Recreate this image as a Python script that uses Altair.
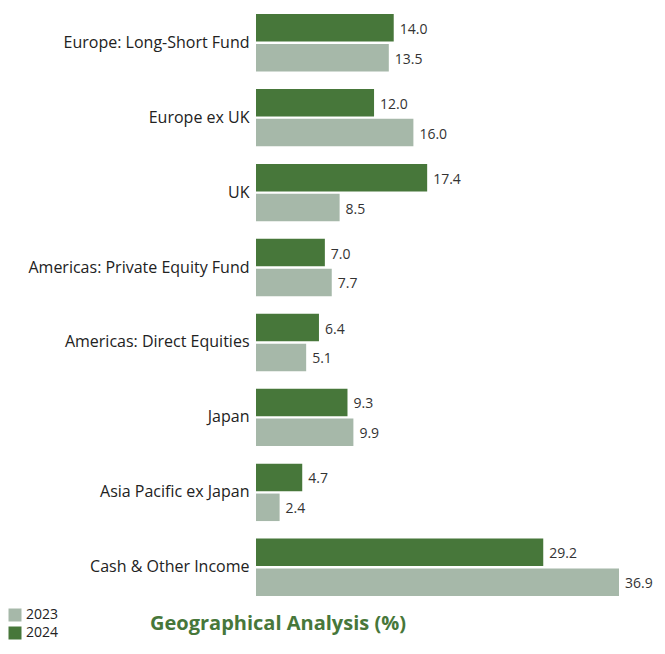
import altair as alt
import pandas as pd

categories = [
    "Europe: Long-Short Fund",
    "Europe ex UK",
    "UK",
    "Americas: Private Equity Fund",
    "Americas: Direct Equities",
    "Japan",
    "Asia Pacific ex Japan",
    "Cash & Other Income",
]
values_2024 = [14.0, 12.0, 17.4, 7.0, 6.4, 9.3, 4.7, 29.2]
values_2023 = [13.5, 16.0, 8.5, 7.7, 5.1, 9.9, 2.4, 36.9]
years = ["2024", "2023"]
legend_order = ["2023", "2024"]
colors = ["#a6b8a9", "#47773a"]
title_text = "Geographical Analysis (%)"

rows = []
for c, a, b in zip(categories, values_2024, values_2023):
    rows.append({"category": c, "year": "2024", "value": a})
    rows.append({"category": c, "year": "2023", "value": b})
df = pd.DataFrame(rows)

FONT = "Open Sans"

base = alt.Chart(df).encode(
    y=alt.Y(
        "category:N",
        sort=categories,
        title=None,
        scale=alt.Scale(paddingInner=0.234, paddingOuter=0.08),
        axis=alt.Axis(
            domain=False, ticks=False, labelFontSize=16, labelColor="#222222",
            labelFont=FONT, labelPadding=7, labelLimit=300,
            minExtent=248, maxExtent=248,
        ),
    ),
    yOffset=alt.YOffset(
        "year:N", sort=years,
        scale=alt.Scale(paddingInner=0.08, paddingOuter=0),
    ),
    x=alt.X("value:Q", scale=alt.Scale(domain=[0, 36.9], nice=False), axis=None),
)

bars = base.mark_bar().encode(
    color=alt.Color(
        "year:N",
        scale=alt.Scale(domain=legend_order, range=colors),
        legend=alt.Legend(
            title=None, orient="none", legendX=-248, legendY=600,
            direction="vertical", symbolType="square", symbolSize=169,
            symbolStrokeWidth=0, labelFontSize=14, labelFont=FONT,
            labelColor="#222222", padding=0, symbolOffset=0, labelOffset=4,
            rowPadding=4,
        ),
    )
)

labels = base.mark_text(
    align="left", baseline="middle", dx=6, dy=2, fontSize=14,
    font=FONT, color="#333333",
).encode(text=alt.Text("value:Q", format=".1f"))

chart = (
    alt.layer(bars, labels)
    .properties(
        width=363,
        height=594,
        padding=0,
        title=alt.TitleParams(
            title_text, orient="bottom", anchor="start", frame="group",
            fontSize=20, fontWeight="bold", color="#47773a", font=FONT,
            dx=-106, offset=-26,
        ),
    )
    .configure_view(stroke=None)
)

chart.save("out.html", embed_options={"renderer": "svg", "actions": False})
